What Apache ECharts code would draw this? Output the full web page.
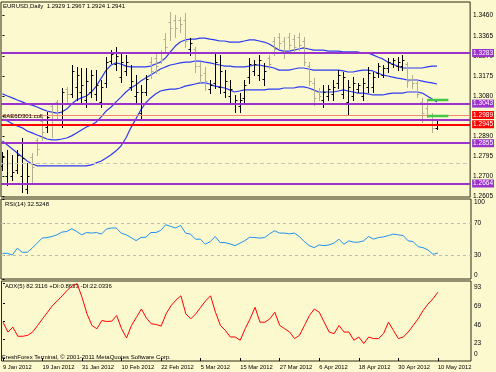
<!DOCTYPE html>
<html><head><meta charset="utf-8">
<script src="https://cdn.jsdelivr.net/npm/echarts@6/dist/echarts.min.js"></script>
<style>html,body{margin:0;padding:0;background:#fdf9cf}#c{width:496px;height:372px}</style>
</head><body><div id="c"></div><script>
const DATES = ['9 Jan 2012','10 Jan 2012','11 Jan 2012','12 Jan 2012','13 Jan 2012','16 Jan 2012','17 Jan 2012','18 Jan 2012','19 Jan 2012','20 Jan 2012','23 Jan 2012','24 Jan 2012','25 Jan 2012','26 Jan 2012','27 Jan 2012','30 Jan 2012','31 Jan 2012',
'1 Feb 2012','2 Feb 2012','3 Feb 2012','6 Feb 2012','7 Feb 2012','8 Feb 2012','9 Feb 2012','10 Feb 2012','13 Feb 2012','14 Feb 2012','15 Feb 2012','16 Feb 2012','17 Feb 2012','20 Feb 2012','21 Feb 2012','22 Feb 2012','23 Feb 2012','24 Feb 2012','27 Feb 2012','28 Feb 2012','29 Feb 2012',
'1 Mar 2012','2 Mar 2012','5 Mar 2012','6 Mar 2012','7 Mar 2012','8 Mar 2012','9 Mar 2012','12 Mar 2012','13 Mar 2012','14 Mar 2012','15 Mar 2012','16 Mar 2012','19 Mar 2012','20 Mar 2012','21 Mar 2012','22 Mar 2012','23 Mar 2012','26 Mar 2012','27 Mar 2012','28 Mar 2012','29 Mar 2012','30 Mar 2012',
'2 Apr 2012','3 Apr 2012','4 Apr 2012','5 Apr 2012','6 Apr 2012','9 Apr 2012','10 Apr 2012','11 Apr 2012','12 Apr 2012','13 Apr 2012','16 Apr 2012','17 Apr 2012','18 Apr 2012','19 Apr 2012','20 Apr 2012','23 Apr 2012','24 Apr 2012','25 Apr 2012','26 Apr 2012','27 Apr 2012','30 Apr 2012',
'1 May 2012','2 May 2012','3 May 2012','4 May 2012','7 May 2012','8 May 2012','9 May 2012','10 May 2012'];
const DATE_TICKS = [0,8,16,24,32,40,48,56,64,72,80,88];

const OPEN  = [1.2745,1.2700,1.2700,1.2730,1.2700,1.2640,1.2790,1.2870,1.2960,1.2930,1.3030,1.3050,1.2990,1.3110,1.3090,1.3120,1.3100,1.3060,1.3100,1.3090,1.3050,1.3140,1.3245,1.3230,1.3170,1.3200,1.3120,1.3080,1.3000,1.3100,1.3240,1.3260,1.3290,1.3350,1.3430,1.3440,1.3440,1.3440,1.3300,1.3300,1.3220,1.3190,1.3110,1.3140,1.3120,1.3100,1.3080,1.3040,1.3030,1.3070,1.3170,1.3200,1.3180,1.3160,1.3260,1.3340,1.3360,1.3340,1.3360,1.3350,1.3360,1.3340,1.3220,1.3140,1.3100,1.3060,1.3080,1.3090,1.3140,1.3090,1.3050,1.3080,1.3110,1.3080,1.3120,1.3120,1.3190,1.3180,1.3210,1.3230,1.3220,1.3220,1.3230,1.3160,1.3140,1.3050,1.3020,1.2990,1.2929];
const HIGH  = [1.2813,1.2822,1.2799,1.2822,1.2879,1.2761,1.2808,1.2879,1.2979,1.3003,1.3046,1.3060,1.3117,1.3121,1.3226,1.3216,1.3212,1.3212,1.3202,1.3202,1.3155,1.3264,1.3297,1.3311,1.3288,1.3273,1.3226,1.3178,1.3131,1.3178,1.3264,1.3283,1.3297,1.3378,1.3478,1.3464,1.3454,1.3473,1.3354,1.3311,1.3240,1.3216,1.3155,1.3283,1.3273,1.3202,1.3155,1.3084,1.3093,1.3155,1.3259,1.3250,1.3273,1.3235,1.3273,1.3359,1.3378,1.3359,1.3378,1.3369,1.3378,1.3359,1.3240,1.3164,1.3117,1.3131,1.3131,1.3155,1.3202,1.3193,1.3155,1.3169,1.3140,1.3164,1.3216,1.3193,1.3235,1.3226,1.3259,1.3259,1.3264,1.3273,1.3240,1.3178,1.3155,1.3069,1.3060,1.2998,1.2967];
const LOW   = [1.2727,1.2656,1.2680,1.2713,1.2623,1.2618,1.2670,1.2798,1.2870,1.2908,1.2884,1.2965,1.2931,1.3046,1.3074,1.3060,1.3050,1.3027,1.3074,1.3060,1.3027,1.3121,1.3235,1.3202,1.3145,1.3178,1.3107,1.3046,1.2974,1.3084,1.3164,1.3188,1.3235,1.3283,1.3345,1.3359,1.3383,1.3311,1.3273,1.3193,1.3145,1.3107,1.3093,1.3117,1.3093,1.3074,1.3050,1.3003,1.3003,1.3046,1.3140,1.3178,1.3155,1.3131,1.3212,1.3273,1.3307,1.3259,1.3297,1.3288,1.3297,1.3226,1.3131,1.3036,1.3060,1.3027,1.3060,1.3060,1.3117,1.3069,1.2989,1.3060,1.3098,1.3060,1.3098,1.3098,1.3169,1.3169,1.3193,1.3216,1.3202,1.3202,1.3121,1.3117,1.3074,1.2955,1.2979,1.2908,1.2924];
const CLOSE = [1.2790,1.2760,1.2720,1.2800,1.2785,1.2700,1.2740,1.2830,1.2910,1.2980,1.2990,1.3000,1.3100,1.3090,1.3200,1.3180,1.3130,1.3150,1.3180,1.3130,1.3120,1.3240,1.3280,1.3270,1.3240,1.3240,1.3150,1.3100,1.3100,1.3160,1.3200,1.3220,1.3250,1.3310,1.3400,1.3400,1.3420,1.3340,1.3330,1.3220,1.3180,1.3150,1.3130,1.3240,1.3200,1.3150,1.3110,1.3060,1.3060,1.3130,1.3230,1.3230,1.3250,1.3200,1.3230,1.3300,1.3330,1.3290,1.3320,1.3310,1.3320,1.3240,1.3150,1.3070,1.3080,1.3100,1.3110,1.3120,1.3180,1.3170,1.3120,1.3140,1.3130,1.3140,1.3190,1.3170,1.3220,1.3210,1.3240,1.3250,1.3240,1.3250,1.3150,1.3140,1.3090,1.3000,1.2990,1.2929,1.2941];

const BB_UPPER = [1.3089,1.3079,1.3070,1.3060,1.3051,1.3041,1.3036,1.3027,1.3017,1.3008,1.3003,1.2998,1.3003,1.3017,1.3041,1.3060,1.3070,1.3079,1.3098,1.3126,1.3164,1.3202,1.3226,1.3236,1.3231,1.3221,1.3217,1.3217,1.3217,1.3217,1.3221,1.3231,1.3240,1.3259,1.3288,1.3316,1.3335,1.3345,1.3349,1.3349,1.3354,1.3354,1.3349,1.3345,1.3340,1.3340,1.3335,1.3335,1.3335,1.3340,1.3345,1.3345,1.3340,1.3335,1.3326,1.3311,1.3297,1.3292,1.3292,1.3297,1.3302,1.3307,1.3302,1.3297,1.3297,1.3297,1.3292,1.3292,1.3292,1.3288,1.3288,1.3288,1.3288,1.3283,1.3283,1.3274,1.3264,1.3255,1.3240,1.3231,1.3221,1.3212,1.3212,1.3212,1.3212,1.3212,1.3217,1.3221,1.3221];
const BB_MID = [1.2970,1.2961,1.2947,1.2937,1.2928,1.2913,1.2904,1.2894,1.2885,1.2875,1.2871,1.2871,1.2875,1.2880,1.2890,1.2904,1.2918,1.2932,1.2942,1.2956,1.2980,1.3008,1.3027,1.3051,1.3074,1.3098,1.3117,1.3131,1.3150,1.3164,1.3179,1.3193,1.3207,1.3217,1.3226,1.3231,1.3236,1.3240,1.3240,1.3245,1.3245,1.3240,1.3236,1.3231,1.3226,1.3221,1.3221,1.3217,1.3217,1.3217,1.3221,1.3226,1.3226,1.3221,1.3217,1.3212,1.3202,1.3202,1.3202,1.3207,1.3212,1.3212,1.3207,1.3202,1.3202,1.3202,1.3202,1.3202,1.3202,1.3198,1.3193,1.3193,1.3198,1.3202,1.3202,1.3198,1.3188,1.3179,1.3174,1.3169,1.3164,1.3160,1.3155,1.3155,1.3155,1.3150,1.3145,1.3141,1.3136];
const BB_LOWER = [1.2866,1.2847,1.2828,1.2809,1.2790,1.2771,1.2757,1.2748,1.2748,1.2748,1.2748,1.2748,1.2748,1.2748,1.2748,1.2748,1.2748,1.2748,1.2752,1.2762,1.2771,1.2785,1.2800,1.2819,1.2842,1.2880,1.2928,1.2970,1.3013,1.3046,1.3070,1.3089,1.3103,1.3108,1.3112,1.3112,1.3117,1.3126,1.3131,1.3136,1.3141,1.3141,1.3136,1.3126,1.3122,1.3117,1.3108,1.3098,1.3103,1.3108,1.3108,1.3108,1.3108,1.3108,1.3112,1.3112,1.3112,1.3117,1.3117,1.3117,1.3122,1.3122,1.3117,1.3108,1.3098,1.3098,1.3098,1.3098,1.3103,1.3108,1.3103,1.3098,1.3093,1.3093,1.3089,1.3084,1.3084,1.3084,1.3089,1.3093,1.3093,1.3093,1.3098,1.3098,1.3098,1.3093,1.3079,1.3065,1.3051];

const RSI = [32.1,32.1,30.0,38.5,33.4,33.4,38.5,44.8,51.1,51.8,53.1,55.2,58.6,59.4,62.8,59.4,55.2,58.1,57.4,58.1,56.1,62.4,63.7,63.7,57.4,55.2,51.8,48.0,51.8,52.3,58.1,58.1,60.7,67.9,65.7,63.7,67.0,57.4,56.1,49.8,49.8,43.5,46.8,53.1,45.5,45.5,43.9,41.7,44.8,48.0,52.3,51.8,51.1,51.8,56.5,60.3,57.4,57.4,56.5,57.4,53.1,46.8,41.7,39.2,42.6,41.7,42.6,44.8,49.8,43.5,47.7,46.0,46.0,47.7,53.1,49.8,51.8,52.6,54.3,56.1,55.2,54.3,47.7,46.8,40.5,39.2,36.3,30.9,32.5];
const ADX = [44.8,32.5,38.6,27.2,27.2,28.4,32.5,40.7,49.0,57.2,65.4,71.6,77.8,84.8,90.1,93.0,75.7,55.2,40.7,36.6,46.9,45.7,46.1,53.1,36.6,25.1,40.7,50.9,61.3,50.2,42.8,42.0,39.9,55.2,65.4,72.4,77.8,55.2,49.0,55.2,63.4,71.6,77.8,57.2,40.7,34.6,26.3,26.3,22.2,36.6,49.0,63.4,44.8,44.8,49.0,57.2,40.7,36.6,32.5,24.3,28.4,40.7,53.1,61.3,57.2,44.8,32.5,30.5,40.7,32.5,32.5,22.2,26.3,18.1,26.3,24.3,24.3,30.5,44.8,34.6,24.3,26.3,32.5,40.7,49.0,59.3,67.5,74.0,82.3];

const PRICE_TICKS = [1.2605,1.2700,1.2795,1.2890,1.2985,1.3080,1.3175,1.3270,1.3365,1.3460];
const RSI_TICKS = [0,30,70,100];
const RSI_LEVELS = [70,30];
const ADX_TICKS = [0,23,46,69,93];
const PURPLE_LEVELS = [1.3283,1.3043,1.2855,1.2664];
const PURPLE_PLAIN_LEVEL = 1.2966;
const SALMON_LEVEL = 1.2989;
const RED_LEVEL = 1.2945;
const GRAY_LEVEL = 1.2762;
const GREEN_LEVELS = [1.3060,1.2984];
const GREEN_SPAN = [86,90.3];

const FONT = "'Liberation Sans', Arial, sans-serif";
const BULL = '#000000', BEAR = '#b3ae93';
const PURPLE = '#9a32cd', RED = '#ff0000', SALMON = '#f08878';

const XR = {min:-0.3, max:94.7};
const chart = echarts.init(document.getElementById('c'), null, {renderer:'canvas'});

function renderBar(params, api) {
  const i = api.value(0), o = api.value(1), c = api.value(2), l = api.value(3), h = api.value(4);
  const top = api.coord([i, h]), bot = api.coord([i, l]);
  const yo = Math.round(api.coord([i, o])[1]) + 0.5, yc = Math.round(api.coord([i, c])[1]) + 0.5;
  const x = Math.round(top[0]) + 0.5;
  const st = {stroke: c >= o ? BULL : BEAR, lineWidth: 1};
  return {type:'group', children:[
    {type:'line', shape:{x1:x, y1:Math.round(top[1]), x2:x, y2:Math.round(bot[1]) + 1}, style: st},
    {type:'line', shape:{x1:x-2, y1:yo, x2:x, y2:yo}, style: st},
    {type:'line', shape:{x1:x, y1:yc, x2:x+2, y2:yc}, style: st}
  ]};
}

const idx = DATES.map((d, i) => i);
const pair = arr => arr.map((v, i) => [i, v]);
const boxLabel = (bg) => ({show:true, position:'end', distance:2, formatter: p => Number(p.value).toFixed(4),
  color:'#ffffff', backgroundColor:bg, fontSize:6.5, fontFamily:FONT, padding:[1,1,0,1]});

const levelData = [];
PURPLE_LEVELS.forEach(v => levelData.push({yAxis:v, lineStyle:{color:PURPLE, width:2, type:'solid'}, label:boxLabel(PURPLE)}));
levelData.push({yAxis:PURPLE_PLAIN_LEVEL, lineStyle:{color:PURPLE, width:2, type:'solid'}, label:{show:false}});
levelData.push({yAxis:SALMON_LEVEL, lineStyle:{color:SALMON, width:1, type:'solid'}, label:boxLabel(RED)});
levelData.push({yAxis:RED_LEVEL, lineStyle:{color:RED, width:2, type:'solid'}, label:boxLabel(RED)});
levelData.push({yAxis:GRAY_LEVEL, lineStyle:{color:'#c4c4bc', width:1, type:[4,3]}, label:{show:false}});

const bandStyle = {color:'#2b3cf0', width:1.2};

const option = {
  backgroundColor:'#fdf9cf',
  animation:false,
  grid:[
    {left:1, top:2, width:470, height:195, show:true, borderColor:'#2a2a10', borderWidth:1, backgroundColor:'transparent'},
    {left:1, top:199, width:470, height:80, show:true, borderColor:'#2a2a10', borderWidth:1, backgroundColor:'transparent'},
    {left:1, top:281, width:470, height:80, show:true, borderColor:'#2a2a10', borderWidth:1, backgroundColor:'transparent'}
  ],
  xAxis:[
    {type:'value', gridIndex:0, ...XR, show:false},
    {type:'value', gridIndex:1, ...XR, show:false},
    {type:'value', gridIndex:2, ...XR, position:'bottom', axisLine:{show:false}, splitLine:{show:false},
      axisTick:{show:true, customValues:DATE_TICKS, length:3, lineStyle:{color:'#000'}},
      axisLabel:{customValues:DATE_TICKS, formatter:v => DATES[Math.round(v)], align:'left', fontSize:5.8, fontFamily:FONT, color:'#000', margin:3}}
  ],
  yAxis:[
    {type:'value', gridIndex:0, position:'right', min:1.2600, max:1.3525, splitLine:{show:false}, axisLine:{show:false},
      axisTick:{show:true, customValues:PRICE_TICKS, length:2, lineStyle:{color:'#000'}},
      axisLabel:{customValues:PRICE_TICKS, formatter:v => v.toFixed(4), fontSize:6.5, fontFamily:FONT, color:'#000', margin:3}},
    {type:'value', gridIndex:1, position:'right', min:0, max:100, splitLine:{show:false}, axisLine:{show:false},
      axisTick:{show:true, customValues:RSI_TICKS, length:2, lineStyle:{color:'#000'}},
      axisLabel:{customValues:RSI_TICKS, fontSize:6.5, fontFamily:FONT, color:'#000', margin:3,
        verticalAlignMaxLabel:'top', verticalAlignMinLabel:'bottom'}},
    {type:'value', gridIndex:2, position:'right', min:-3.7, max:96.3, splitLine:{show:false}, axisLine:{show:false},
      axisTick:{show:true, customValues:ADX_TICKS, length:2, lineStyle:{color:'#000'}},
      axisLabel:{customValues:ADX_TICKS, fontSize:6.5, fontFamily:FONT, color:'#000', margin:3,
        verticalAlign:'top', verticalAlignMinLabel:'bottom'}}
  ],
  series:[
    {type:'line', xAxisIndex:0, yAxisIndex:0, data:pair(BB_UPPER), showSymbol:false, lineStyle:bandStyle, z:2},
    {type:'line', xAxisIndex:0, yAxisIndex:0, data:pair(BB_MID), showSymbol:false, lineStyle:bandStyle, z:2},
    {type:'line', xAxisIndex:0, yAxisIndex:0, data:pair(BB_LOWER), showSymbol:false, lineStyle:bandStyle, z:2},
    {type:'custom', xAxisIndex:0, yAxisIndex:0, renderItem:renderBar, clip:true, z:3,
      data: idx.map(i => [i, OPEN[i], CLOSE[i], LOW[i], HIGH[i]]), encode:{x:0, y:[1,2,3,4]}},
    {type:'line', xAxisIndex:0, yAxisIndex:0, data:[], z:4,
      markLine:{silent:true, precision:4, symbol:['none','none'], animation:false, data:levelData}},
    ...GREEN_LEVELS.map(v => ({type:'line', xAxisIndex:0, yAxisIndex:0, data:GREEN_SPAN.map(x => [x, v]),
      showSymbol:false, lineStyle:{color:'#46c846', width:2.5}, z:5})),
    {type:'line', xAxisIndex:1, yAxisIndex:1, data:pair(RSI), showSymbol:false, lineStyle:{color:'#2090f0', width:1}, z:3,
      markLine:{silent:true, symbol:['none','none'], animation:false, label:{show:false},
        lineStyle:{color:'#bdbdb5', width:1, type:[3,3]}, data:RSI_LEVELS.map(v => ({yAxis:v}))}},
    {type:'line', xAxisIndex:2, yAxisIndex:2, data:pair(ADX), showSymbol:false, lineStyle:{color:'#ff0000', width:1}, z:3}
  ],
  graphic:[
    {type:'text', left:3, top:3, style:{text:'EURUSD,Daily  ' + [OPEN[88],HIGH[88],LOW[88],CLOSE[88]].map(v => v.toFixed(4)).join(' '), font:'6px ' + FONT, fill:'#000'}},
    {type:'text', left:3, top:113, style:{text:'6AE6D301.coll', font:'6px ' + FONT, fill:'#000'}, z:10},
    {type:'text', left:5, top:201, style:{text:'RSI(14) 32.5248', font:'6px ' + FONT, fill:'#000'}},
    {type:'text', left:5, top:283, style:{text:'ADX(5) 82.3116 +DI:0.8633 -DI:22.0336', font:'6px ' + FONT, fill:'#000'}},
    {type:'text', left:2, top:354, style:{text:'FreshForex Terminal, \u00a9 2001-2011 MetaQuotes Software Corp.', font:'6px ' + FONT, fill:'#000'}}
  ]
};
chart.setOption(option);
</script></body></html>
